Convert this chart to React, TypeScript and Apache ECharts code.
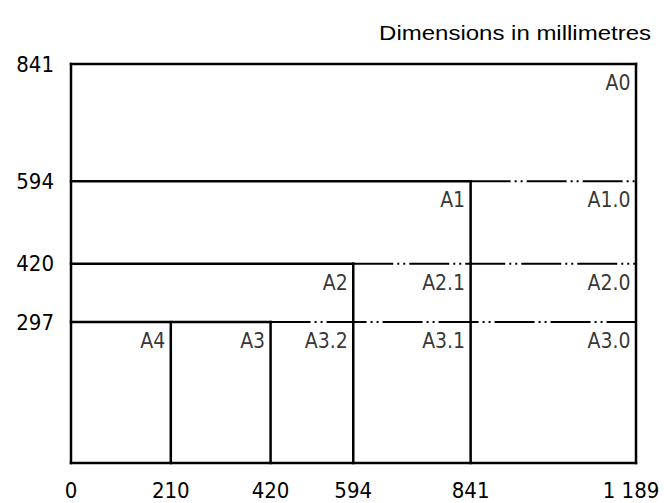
import React, { useEffect, useRef } from "react";
import * as echarts from "echarts";

// Paper sizes (mm)
const xTicks = [0, 210, 420, 594, 841, 1189];
const yTicks = [297, 420, 594, 841];

const solidSegments: number[][][] = [
  [[0, 0], [1189, 0]],
  [[0, 0], [0, 841]],
  [[0, 841], [1189, 841]],
  [[1189, 0], [1189, 841]],
  [[0, 594], [841, 594]],
  [[0, 420], [594, 420]],
  [[0, 297], [420, 297]],
  [[210, 0], [210, 297]],
  [[420, 0], [420, 297]],
  [[594, 0], [594, 420]],
  [[841, 0], [841, 594]],
];

const dashedSegments: number[][][] = [
  [[841, 594], [1189, 594]],
  [[594, 420], [1189, 420]],
  [[420, 297], [1189, 297]],
];

const sheetNames = ["A0", "A1", "A1.0", "A2", "A2.1", "A2.0", "A4", "A3", "A3.2", "A3.1", "A3.0"];
const sheetRight = [1189, 841, 1189, 594, 841, 1189, 210, 420, 594, 841, 1189];
const sheetTop = [841, 594, 594, 420, 420, 420, 297, 297, 297, 297, 297];

const titleText = "Dimensions in millimetres";

const techFont = "'DejaVu Sans Condensed', 'Liberation Sans Narrow', 'DejaVu Sans', sans-serif";

export default function App() {
  const ref = useRef<HTMLDivElement>(null);
  useEffect(() => {
    if (!ref.current) return;
    const chart = echarts.init(ref.current, undefined, { renderer: "svg" });
    const series: any[] = [];
    solidSegments.forEach((seg) => {
      series.push({
        type: "line",
        data: seg,
        symbol: "none",
        clip: false,
        silent: true,
        lineStyle: { color: "#000", width: 2.5, cap: "square" },
      });
    });
    dashedSegments.forEach((seg) => {
      series.push({
        type: "line",
        data: seg,
        symbol: "none",
        clip: false,
        silent: true,
        lineStyle: { color: "#000", width: 2, type: [40, 4, 2, 4, 2, 4] },
      });
    });
    series.push({
      type: "scatter",
      symbolSize: 1,
      itemStyle: { color: "rgba(0,0,0,0)" },
      silent: true,
      data: sheetNames.map((n, i) => ({ name: n, value: [sheetRight[i], sheetTop[i]] })),
      label: {
        show: true,
        position: "left",
        distance: 5,
        offset: [0, 19],
        formatter: "{b}",
        color: "#000",
        fontSize: 21,
        fontFamily: techFont,
      },
    });
    chart.setOption({
      animation: false,
      backgroundColor: "#fff",
      grid: { left: 71, right: 28, top: 64, bottom: 40 },
      xAxis: {
        type: "value",
        min: 0,
        max: 1189,
        splitLine: { show: false },
        axisTick: { show: false },
        axisLine: { show: false },
        axisLabel: {
          customValues: xTicks,
          formatter: (v: number) =>
            v >= 1000 ? "{e|1 " + String(v).slice(1) + "}" : String(v),
          color: "#000",
          fontSize: 22,
          fontFamily: techFont,
          margin: 16,
          rich: {
            e: { padding: [0, 10, 0, 0], fontSize: 22, fontFamily: techFont, color: "#000" },
          },
        },
      },
      yAxis: {
        type: "value",
        min: 0,
        max: 841,
        splitLine: { show: false },
        axisTick: { show: false },
        axisLine: { show: false },
        axisLabel: {
          customValues: yTicks,
          color: "#000",
          fontSize: 22,
          fontFamily: techFont,
          margin: 17,
        },
      },
      graphic: [
        {
          type: "text",
          x: 651,
          y: 33,
          scaleX: 1.2,
          style: {
            text: titleText,
            fill: "#000",
            fontSize: 20,
            fontFamily: "'Liberation Sans', Arial, sans-serif",
            textAlign: "right",
            textVerticalAlign: "middle",
          },
        },
      ],
      series,
    });
    return () => chart.dispose();
  }, []);
  return (
    <div
      ref={ref}
      style={{ position: "fixed", left: 0, top: 0, width: 664, height: 503 }}
    />
  );
}
